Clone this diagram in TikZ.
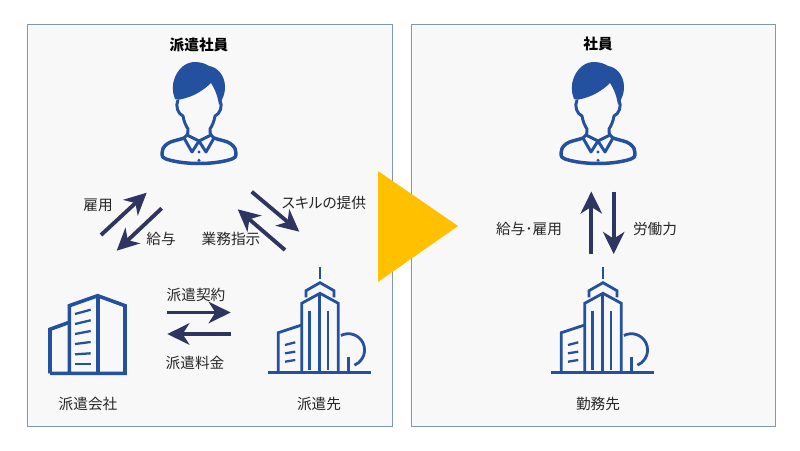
\documentclass[tikz,border=0pt]{standalone}
\usepackage{fontspec}
\setmainfont{Noto Sans CJK JP}
\usetikzlibrary{arrows.meta}
\definecolor{iconblue}{HTML}{23509F}
\definecolor{arrownavy}{HTML}{2F3561}
\definecolor{panelline}{HTML}{8497A8}
\definecolor{panelfill}{HTML}{F8F8F8}
\definecolor{arrowgold}{HTML}{FFC000}
\tikzset{
 panel/.style={draw=panelline, fill=panelfill, line width=0.6pt},
 lbl/.style={font=\fontsize{11}{13}\selectfont, text=black!85, inner sep=0pt},
 ttl/.style={font=\fontsize{11}{13}\selectfont\bfseries, text=black, inner sep=0pt},
 flow/.style={draw=arrownavy, line width=2.9pt, -{Stealth[length=16.5pt,width=16pt,inset=5pt]}},
 icon/.style={draw=iconblue, line width=2.7pt, line join=miter},
 thin icon/.style={draw=iconblue, line width=2.1pt},
 tick/.style={draw=iconblue, line width=1.7pt},
 face line/.style={draw=iconblue, line width=2.2pt, line join=round},
 person/.pic={
  % shoulders
  \draw[face line, line width=2.6pt] (-15,76) .. controls (-24,79) and (-28,79) .. (-32,82)
   .. controls (-36,85) and (-37,88) .. (-37,91) .. controls (-37,95) and (-36,96) .. (-33,97)
   .. controls (-15,103) and (15,103) .. (33,97)
   .. controls (36,96) and (37,95) .. (37,91) .. controls (37,88) and (36,85) .. (32,82)
   .. controls (28,79) and (24,79) .. (15,76);
  % face
  \draw[face line] (-21,38) .. controls (-24,44) and (-21,52) .. (-16,54)
   .. controls (-15,60) and (-13,64) .. (-11,67) .. controls (-11,70) and (-11,72) .. (-12,73);
  \draw[face line] (21,38) .. controls (24,44) and (21,52) .. (16,54)
   .. controls (15,60) and (13,64) .. (11,67) .. controls (11,70) and (11,72) .. (12,73);
  % collar
  \draw[face line] (-12,73) -- (-15,76) -- (-7,90) -- (0,79) -- (7,90) -- (15,76) -- (12,73);
  \draw[face line] (-12,73) -- (0,79) -- (12,73);
  \fill[iconblue] (0,90) circle (1.7) (0,98.3) circle (1.7);
  % hair
  \fill[iconblue] (-24,37) .. controls (-27,30) and (-27,22) .. (-24,15) .. controls (-20,6) and (-13,0) .. (-4,0)
   .. controls (2,0) and (7,2) .. (10,4) .. controls (18,5) and (26,13) .. (26,25)
   .. controls (26,33) and (23,38) .. (20,43) .. controls (19,35) and (16,27) .. (12,21)
   .. controls (4,29) and (-7,35) .. (-17,37) .. controls (-19,38) and (-22,38) .. (-24,37) -- cycle;
 },
 tower/.pic={
  \draw[thin icon] (268.3,372.7) -- (370.7,372.7);
  \draw[thin icon] (320,266.7) -- (320,279.3);
  \draw[thin icon] (306,297.3) -- (306,290.7) -- (320,282.7) -- (334,290.7) -- (334,297.3);
  \draw[thin icon] (301.7,372.7) -- (301.7,303.3) -- (320,293.3) -- (338.3,303.3) -- (338.3,372.7);
  \draw[thin icon] (319.5,293.3) -- (319.5,372.7);
  \draw[thin icon] (309.7,310.7) -- (309.7,370);
  \draw[thin icon] (328,310.7) -- (328,370);
  \draw[thin icon] (278.3,372.7) -- (278.3,332.7) -- (301.7,325);
  \draw[tick] (285,345) -- (295.3,342.3);
  \draw[tick] (285,353.3) -- (295.3,351.7);
  \draw[tick] (285,361.7) -- (295.3,360);
  \draw[thin icon] (348.3,356.7) -- (348.3,372.7);
  \draw[thin icon] (340.9,335.5) arc[start angle=-117, end angle=68, radius=16.3];
 },
}
\begin{document}
\begin{tikzpicture}[x=0.75pt, y=-0.75pt]
\useasboundingbox (0,0) rectangle (800,450);
\fill[white] (0,0) rectangle (800,450);
\draw[panel] (27,24) rectangle (392,426);
\draw[panel] (411,24) rectangle (775,426);
% middle arrow
\fill[arrowgold] (378,171) -- (458,226) -- (378,282) -- cycle;
% people
\pic (staff) at (199,62) {person};
\pic (employee) at (598,62) {person};
% buildings
\draw[icon] (50,373.3) -- (50,329.3) -- (69.3,322.3);
\draw[icon] (69.3,373.3) -- (69.3,305.7) -- (97.7,295.7) -- (125,305.7) -- (125,373.3) -- (50,373.3) -- cycle;
\draw[icon] (97.7,295.7) -- (97.7,373.3);
\foreach \ya/\yb in {314/309.7, 324/320.3, 334/331, 344/342, 354.3/353.3, 364.3/364.3} {
 \draw[tick] (75,\ya) -- (90.7,\yb);
}
\pic (client) at (0,0) {tower};
\pic (workplace) at (283,0) {tower};
% labels
\node[ttl] (dispatchtitle) at (199,45) {派遣社員};
\node[ttl] (stafftitle) at (598,44) {社員};
\node[lbl] (hire) at (98,205) {雇用};
\node[lbl] (pay) at (161,239) {給与};
\node[lbl] (skill) at (324,203) {\addfontfeature{RawFeature=+palt}スキルの提供};
\node[lbl] (order) at (231,239) {業務指示};
\node[lbl] (contract) at (196,295) {派遣契約};
\node[lbl] (fee) at (195,363) {派遣料金};
\node[lbl] (agency) at (88,404) {派遣会社};
\node[lbl] (clientname) at (319,404) {派遣先};
\node[lbl] (workname) at (598,404) {勤務先};
\node[lbl] (payhire) at (529,229) {給与･雇用};
\node[lbl] (labor) at (655,229) {労働力};
% arrow ends
\coordinate (hireA) at (101,235);
\coordinate (hireB) at (146.7,192.7);
\coordinate (payA) at (161.7,208.3);
\coordinate (payB) at (116.7,250.7);
\coordinate (skillA) at (251.7,191.7);
\coordinate (skillB) at (299.3,231.7);
\coordinate (orderA) at (285,250);
\coordinate (orderB) at (237.7,209.3);
\coordinate (contractA) at (167.3,312.5);
\coordinate (contractB) at (230.7,312.5);
\coordinate (feeA) at (230.7,334);
\coordinate (feeB) at (167.3,334);
\coordinate (upA) at (591.3,254);
\coordinate (upB) at (591.3,191.5);
\coordinate (downA) at (613.7,191.5);
\coordinate (downB) at (613.7,254);
\foreach \a/\b in {hireA/hireB, payA/payB, skillA/skillB, orderA/orderB, contractA/contractB, feeA/feeB, upA/upB, downA/downB} {
 \draw[flow] (\a) -- (\b);
}
\end{tikzpicture}
\end{document}
